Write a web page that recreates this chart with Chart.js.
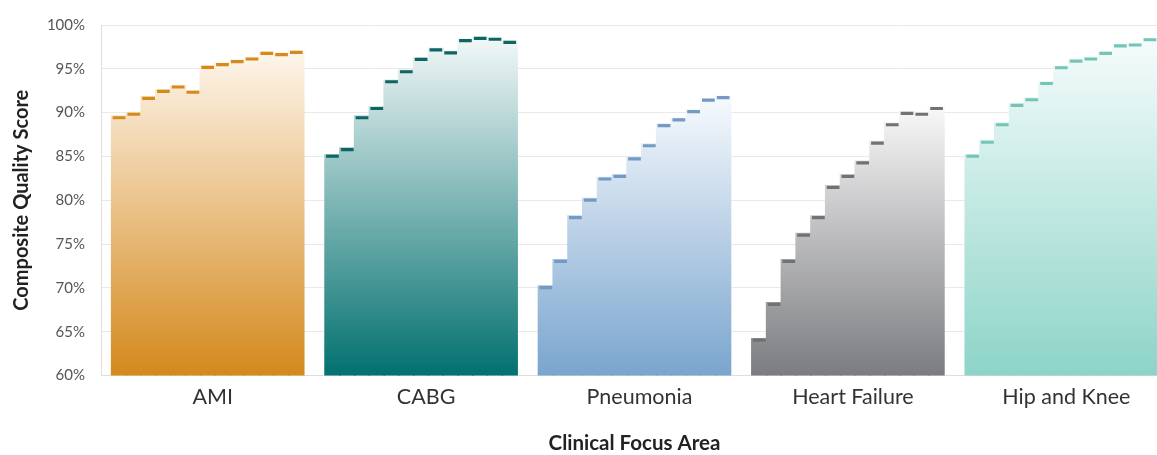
<!DOCTYPE html>
<html>
<head>
<meta charset="utf-8">
<script src="https://cdn.jsdelivr.net/npm/chart.js@4.4.1/dist/chart.umd.min.js"></script>
<style>
  html, body { margin: 0; padding: 0; background: #fff; overflow: hidden; }
  #wrap { width: 1170px; height: 455px; position: relative; }
</style>
</head>
<body>
<div id="wrap"><canvas id="chart"></canvas></div>
<script>
// Clinical focus areas along the x axis
const categories = ['AMI', 'CABG', 'Pneumonia', 'Heart Failure', 'Hip and Knee'];

// Composite quality score (%) for each of the 13 ranked hospitals, per focus area
const amiScores          = [89.6, 90.0, 91.8, 92.6, 93.1, 92.5, 95.35, 95.65, 96.0, 96.3, 96.95, 96.8, 97.05];
const cabgScores         = [85.2, 85.95, 89.6, 90.65, 93.7, 94.85, 96.25, 97.35, 97.0, 98.4, 98.65, 98.55, 98.2];
const pneumoniaScores    = [70.2, 73.2, 78.2, 80.2, 82.6, 82.9, 84.9, 86.4, 88.7, 89.35, 90.3, 91.6, 91.9];
const heartFailureScores = [64.2, 68.3, 73.2, 76.2, 78.2, 81.65, 82.9, 84.45, 86.7, 88.8, 90.1, 90.0, 90.65];
const hipKneeScores      = [85.2, 86.8, 88.8, 91.0, 91.65, 93.5, 95.3, 96.05, 96.3, 96.95, 97.8, 97.9, 98.5];

// Y axis range and tick step (percent)
const yMin = 60;
const yMax = 100;
const yStep = 5;

const groups = [amiScores, cabgScores, pneumoniaScores, heartFailureScores, hipKneeScores];

// Fill gradient (light at the top, saturated at the base) and cap colour per area
const palette = [
  { top: '#fef6ec', bottom: '#d4891d', cap: '#d68a1c' },
  { top: '#f3f8f8', bottom: '#02716f', cap: '#0e6563' },
  { top: '#f7fafd', bottom: '#7aa5ce', cap: '#7399c4' },
  { top: '#f8f8f8', bottom: '#7b7c80', cap: '#717276' },
  { top: '#f5fcfb', bottom: '#8dd4c8', cap: '#74c5b8' }
];

const CAP_THICKNESS = 0.36; // in score units (~3px)
const CAT_PCT = 0.9;

function fillColor(ctx) {
  const chart = ctx.chart;
  const area = chart.chartArea;
  const p = palette[ctx.dataIndex];
  if (!area) return p.bottom;
  const yScale = chart.scales.y;
  const top = yScale.getPixelForValue(Math.max(...groups[ctx.dataIndex]));
  const g = chart.ctx.createLinearGradient(0, top, 0, area.bottom);
  g.addColorStop(0, p.top);
  g.addColorStop(1, p.bottom);
  return g;
}

// One slot per hospital: the gradient column and its darker cap share a stack id
const hospitalCount = amiScores.length;
const fillSets = [];
const capSets = [];
for (let i = 0; i < hospitalCount; i++) {
  fillSets.push({
    label: 'Hospital ' + (i + 1),
    data: groups.map(g => g[i]),
    stack: 'h' + i,
    backgroundColor: fillColor,
    borderWidth: 0,
    inflateAmount: 0.8,
    barPercentage: 1.0,
    categoryPercentage: CAT_PCT,
    order: 1
  });
  capSets.push({
    label: 'Hospital ' + (i + 1) + ' cap',
    data: groups.map(g => [g[i] - CAP_THICKNESS, g[i]]),
    stack: 'h' + i,
    backgroundColor: ctx => palette[ctx.dataIndex].cap,
    borderWidth: 0,
    inflateAmount: 0,
    barPercentage: 0.86,
    categoryPercentage: CAT_PCT,
    order: 0
  });
}

const FONT = 'Lato, "Liberation Sans", sans-serif';

new Chart(document.getElementById('chart'), {
  type: 'bar',
  data: { labels: categories, datasets: [...capSets, ...fillSets] },
  options: {
    responsive: true,
    maintainAspectRatio: false,
    animation: false,
    events: [],
    layout: { padding: { top: 18, right: 2, bottom: 0, left: 0 } },
    plugins: { legend: { display: false }, tooltip: { enabled: false } },
    scales: {
      x: {
        type: 'category',
        offset: true,
        grid: { display: false, drawTicks: false },
        border: { display: true, color: '#dedede' },
        ticks: { font: { family: FONT, size: 21.5 }, color: '#333', padding: 9, maxRotation: 0, labelOffset: 5 },
        title: {
          display: true,
          text: 'Clinical Focus Area',
          color: '#222',
          font: { family: FONT, size: 20.5, weight: 'bold', lineHeight: 1 },
          padding: { top: 0, bottom: 1 }
        },
        afterFit: s => { s.height = 79.5; }
      },
      y: {
        min: yMin,
        max: yMax,
        stacked: false,
        grid: { color: '#e9e9e9', drawTicks: false },
        border: { display: true, color: '#dedede' },
        ticks: {
          stepSize: yStep,
          font: { family: FONT, size: 15 },
          color: '#555',
          padding: 16,
          callback: v => v + '%'
        },
        title: {
          display: true,
          text: 'Composite Quality Score',
          color: '#222',
          font: { family: FONT, size: 20, weight: 'bold', lineHeight: 1 },
          padding: { top: 12, bottom: 0 }
        },
        afterFit: s => { s.width = 101; }
      }
    }
  }
});
</script>
</body>
</html>
